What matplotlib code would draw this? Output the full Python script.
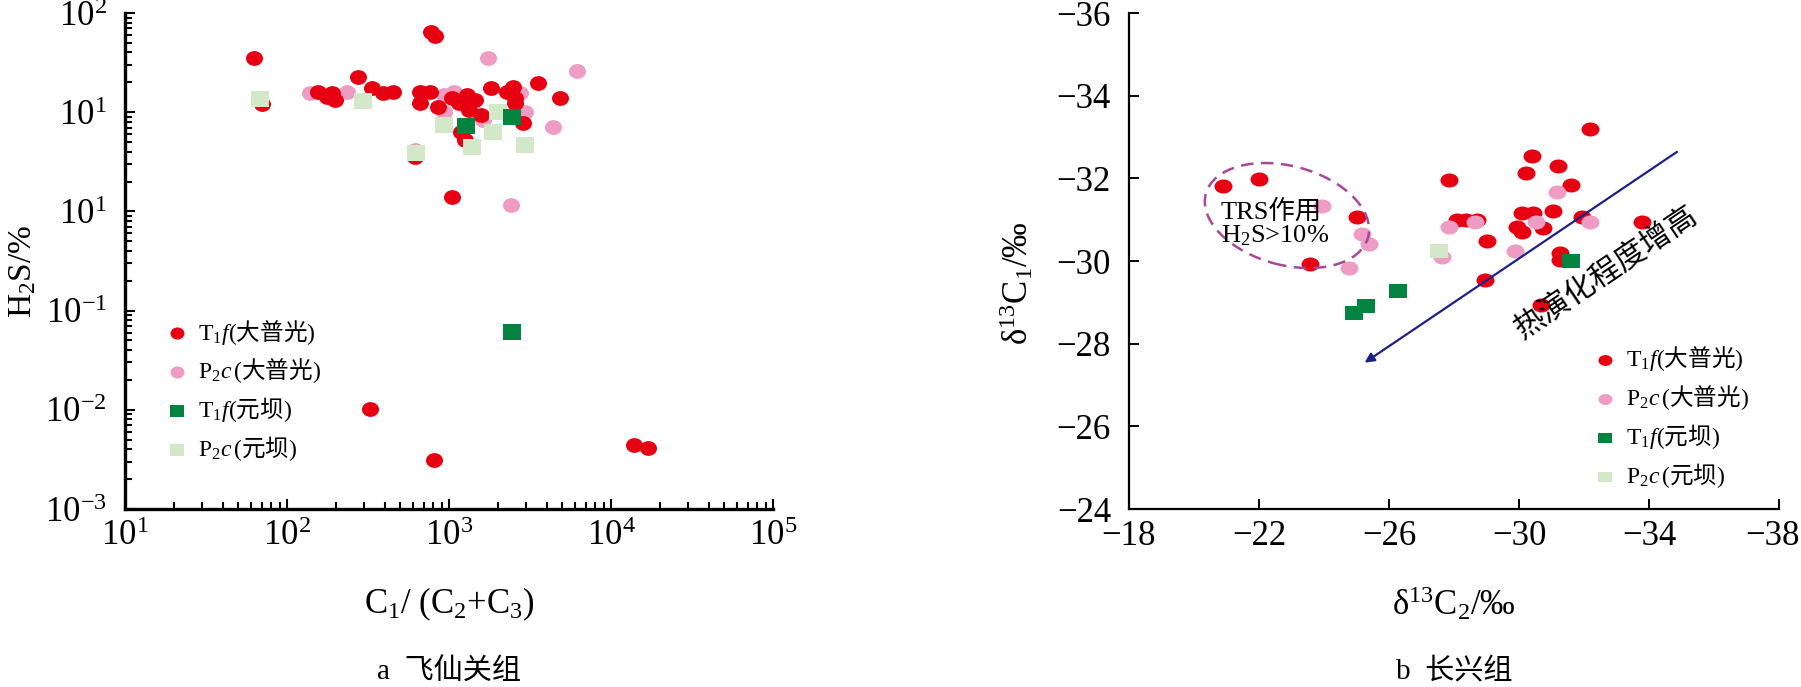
import numpy as np
import matplotlib
matplotlib.use("Agg")
from matplotlib import pyplot as plt
from matplotlib.path import Path
from matplotlib.patches import Ellipse
from matplotlib.transforms import Affine2D, ScaledTranslation

plt.rcParams['font.family'] = ['Liberation Serif', 'Noto Sans CJK SC']
plt.rcParams['mathtext.fontset'] = 'custom'
plt.rcParams['mathtext.rm'] = 'Liberation Serif'
plt.rcParams['mathtext.it'] = 'Liberation Serif:italic'
plt.rcParams['mathtext.sf'] = 'Noto Sans CJK SC'
plt.rcParams['axes.unicode_minus'] = True

# ---- a  飞仙关组 : C1/(C2+C3) vs H2S (%)
a_t1f_dpg_x = [63, 775, 815, 275, 155, 177, 198, 190, 333, 390, 450, 660, 760, 660, 860,
               1040, 1290, 1440, 1150, 1580, 1320, 1820, 2500, 2290, 2560, 2560, 2880, 3540,
               4840, 1250, 1180, 617, 1040, 70, 325, 810, 13800, 17000]
a_t1f_dpg_y = [35, 64, 58, 22.6, 16, 14.2, 13.3, 15.6, 17.6, 15.6, 16, 16, 16, 12.4, 11.2,
               13.8, 14.8, 13.3, 12.4, 9.4, 10.5, 17.7, 18, 16, 13.8, 12.4, 7.8, 19.6,
               13.8, 5.3, 6.3, 3.55, 1.4, 12, 0.0102, 0.0031, 0.0044, 0.0041]
a_p2c_dpg_x = [138, 234, 1070, 935, 1620, 2750, 2960, 1740, 6150, 4370, 2400, 617, 935]
a_p2c_dpg_y = [15.6, 16, 16, 10, 8.3, 15.6, 10, 35, 26, 7.1, 1.16, 4.2, 15]
a_t1f_yb_x = [1280, 2460, 2460]
a_t1f_yb_y = [7.3, 8.9, 0.061]
a_p2c_yb_x = [68, 294, 630, 935, 1380, 1880, 2000, 2960]
a_p2c_yb_y = [13.5, 13.1, 3.9, 7.4, 4.5, 6.3, 10, 4.7]
a_xticks = [10, 100, 1000, 10000, 100000]
a_xticklabels = ['$10^{1}$', '$10^{2}$', '$10^{3}$', '$10^{4}$', '$10^{5}$']
a_yticks = [0.001, 0.01, 0.1, 1, 10, 100]
a_yticklabels = ['$10^{-3}$', '$10^{-2}$', '$10^{-1}$', '$10^{1}$', '$10^{1}$', '$10^{2}$']

# ---- b  长兴组 : d13C2 vs d13C1
b_t1f_dpg_x = [-20.88, -22.0, -25.03, -23.57, -27.85, -28.08, -28.38, -28.7, -29.0, -29.93,
               -30.08, -30.08, -30.43, -30.74, -31.05, -30.23, -30.39, -31.2, -31.59, -32.18,
               -31.93, -33.77, -31.26, -31.26, -28.95, -30.67]
b_t1f_dpg_y = [-31.82, -31.99, -31.07, -29.93, -31.96, -31.0, -31.0, -30.99, -30.49, -30.83,
               -30.71, -31.16, -31.16, -30.81, -31.22, -32.13, -32.53, -32.3, -31.84, -33.2,
               -31.07, -30.95, -30.19, -30.03, -29.53, -28.94]
b_p2c_dpg_x = [-23.93, -25.16, -25.38, -24.77, -27.85, -28.65, -27.62, -29.88, -30.52, -31.16, -32.18]
b_p2c_dpg_y = [-31.33, -30.66, -30.41, -29.84, -30.82, -30.95, -30.1, -30.23, -30.95, -31.68, -30.95]
b_t1f_yb_x = [-31.59, -26.27, -25.29, -24.92]
b_t1f_yb_y = [-30.01, -29.28, -28.9, -28.75]
b_p2c_yb_x = [-27.54]
b_p2c_yb_y = [-30.23]
b_xticks = [-18, -22, -26, -30, -34, -38]
b_yticks = [-36, -34, -32, -30, -28, -26, -24]
arrow_from = (-34.86, -32.64)
arrow_to = (-25.25, -27.54)
trs_center = (-22.86, -31.10)
trs_text_pos = (-22.49, -30.91)
trend_text_pos = (-32.68, -29.74)

labels = [r'$\mathrm{T_1}\mathit{f}\mathrm{(}\mathsf{大普光}\mathrm{)}$',
          r'$\mathrm{P_2}\mathit{c}\,\mathrm{(}\mathsf{大普光}\mathrm{)}$',
          r'$\mathrm{T_1}\mathit{f}\mathrm{(}\mathsf{元坝}\mathrm{)}$',
          r'$\mathrm{P_2}\mathit{c}\,\mathrm{(}\mathsf{元坝}\mathrm{)}$']

RED = '#e60012'
PINK = '#ee9cc3'
DKGREEN = '#00843f'
LTGREEN = '#d2e8c8'


def oval(r):
    return Affine2D().scale(1, r).transform_path(Path.unit_circle())


def box(r):
    return Path([(-1, -r), (1, -r), (1, r), (-1, r), (-1, -r)],
                [Path.MOVETO, Path.LINETO, Path.LINETO, Path.LINETO, Path.CLOSEPOLY])


fig = plt.figure(figsize=(18.01, 6.87), dpi=100)
axa = fig.add_axes([125/1801, 1-509/687, 648/1801, 496/687])
axb = fig.add_axes([1129/1801, 1-509/687, 650/1801, 496/687])

# ---------------- chart a
ca, sa = oval(0.87), box(0.89)
h2 = axa.scatter(a_p2c_dpg_x, a_p2c_dpg_y, s=150, marker=ca, c=PINK, linewidths=0, zorder=2)
h1 = axa.scatter(a_t1f_dpg_x, a_t1f_dpg_y, s=150, marker=ca, c=RED, linewidths=0, zorder=3)
h4 = axa.scatter(a_p2c_yb_x, a_p2c_yb_y, s=155, marker=sa, c=LTGREEN, linewidths=0, zorder=4)
h3 = axa.scatter(a_t1f_yb_x, a_t1f_yb_y, s=155, marker=sa, c=DKGREEN, linewidths=0, zorder=5)
axa.set_xscale('log')
axa.set_yscale('log')
axa.set_xlim(10, 100000)
axa.set_ylim(0.001, 100)
axa.set_xticks(a_xticks)
axa.set_xticklabels(a_xticklabels)
axa.set_yticks(a_yticks)
axa.set_yticklabels(a_yticklabels)
axa.spines['top'].set_visible(False)
axa.spines['right'].set_visible(False)
axa.spines['left'].set_linewidth(2.4)
axa.spines['bottom'].set_linewidth(2.4)
axa.tick_params(which='both', direction='in', width=1.5, labelsize=25, top=False, right=False)
axa.tick_params(which='major', length=7)
axa.tick_params(which='minor', length=5)
axa.tick_params(axis='x', pad=8)
axa.tick_params(axis='y', pad=13)
axa.set_ylabel('H$_2$S/%', fontsize=24)
axa.yaxis.set_label_coords(-0.134, 0.48)
axa.legend([h1, h2, h3, h4], labels, loc='upper left', bbox_to_anchor=(0.065, 0.386),
           frameon=False, fontsize=17, markerscale=0.82, scatterpoints=1,
           handlelength=0.8, handletextpad=0.5, labelspacing=0.42, borderpad=0, borderaxespad=0)
fig.text(449/1801, 1-604/687, 'C$_1$/ (C$_2$+C$_3$)', fontsize=25, ha='center', va='center')
fig.text(449/1801, 1-672/687, 'a  飞仙关组', fontsize=21, ha='center', va='center')

# ---------------- chart b
cb, sb = oval(0.78), box(0.78)
g1 = axb.scatter(b_t1f_dpg_x, b_t1f_dpg_y, s=168, marker=cb, c=RED, linewidths=0, zorder=2)
g2 = axb.scatter(b_p2c_dpg_x, b_p2c_dpg_y, s=168, marker=cb, c=PINK, linewidths=0, zorder=3)
g4 = axb.scatter(b_p2c_yb_x, b_p2c_yb_y, s=168, marker=sb, c=LTGREEN, linewidths=0, zorder=4)
g3 = axb.scatter(b_t1f_yb_x, b_t1f_yb_y, s=168, marker=sb, c=DKGREEN, linewidths=0, zorder=5)
axb.set_xlim(-18, -38)
axb.set_ylim(-24, -36)
axb.set_xticks(b_xticks)
axb.set_yticks(b_yticks)
axb.spines['top'].set_visible(False)
axb.spines['right'].set_visible(False)
axb.spines['left'].set_linewidth(1.6)
axb.spines['bottom'].set_linewidth(1.6)
axb.tick_params(direction='in', width=1.4, length=7, labelsize=25, top=False, right=False)
axb.tick_params(axis='x', pad=8)
axb.tick_params(axis='y', pad=13)
axb.set_ylabel('δ$^{13}$C$_1$/‰', fontsize=25)
axb.yaxis.set_label_coords(-0.143, 0.455)
# last x label sits on the figure edge; nudge it in a little
last = axb.get_xticklabels()[-1]
last.set_transform(last.get_transform() + ScaledTranslation(-0.06, 0, fig.dpi_scale_trans))

axb.annotate('', xy=arrow_to, xytext=arrow_from,
             arrowprops=dict(arrowstyle='-|>', color='#1d2088', lw=1.6,
                             mutation_scale=14, shrinkA=0, shrinkB=0), zorder=6)
ell = Ellipse((0, 0), 1.68, 0.99, angle=-15, fill=False, edgecolor='#a8479a', lw=1.8,
              linestyle=(0, (5, 3)),
              transform=fig.dpi_scale_trans + ScaledTranslation(*trs_center, axb.transData),
              zorder=6)
axb.add_patch(ell)
axb.text(*trs_text_pos, 'TRS作用\nH$_2$S>10%', fontsize=19, ha='center', va='center',
         multialignment='left', linespacing=1.0, zorder=7)
axb.text(*trend_text_pos, '热演化程度增高', fontsize=22, ha='center', va='center',
         rotation=34, rotation_mode='anchor', family=['Noto Sans CJK SC'], zorder=7)
axb.legend([g1, g2, g3, g4], labels, loc='upper left', bbox_to_anchor=(0.718, 0.332),
           frameon=False, fontsize=17, markerscale=0.78, scatterpoints=1,
           handlelength=0.8, handletextpad=0.5, labelspacing=0.42, borderpad=0, borderaxespad=0)
fig.text(1454/1801, 1-604/687, 'δ$^{13}$C$_2$/‰', fontsize=25, ha='center', va='center')
fig.text(1454/1801, 1-672/687, 'b  长兴组', fontsize=21, ha='center', va='center')

fig.savefig('out.png', dpi=100)
